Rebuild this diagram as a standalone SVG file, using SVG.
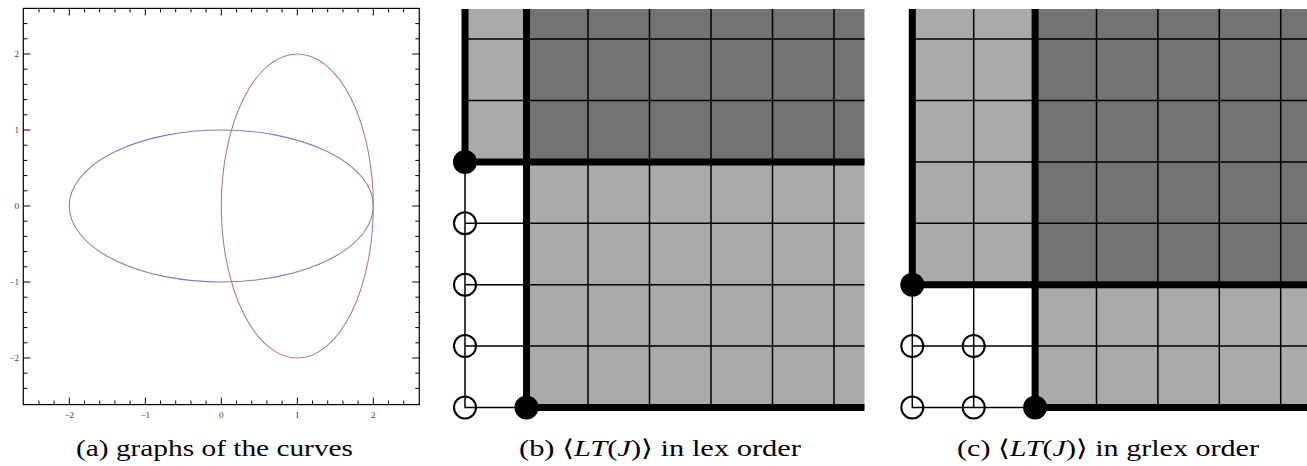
<svg xmlns="http://www.w3.org/2000/svg" xmlns:xlink="http://www.w3.org/1999/xlink" width="1307" height="466" viewBox="0 0 1307 466">
<style>
.frame{fill:none;stroke:#000;stroke-width:1.2}
.tick{fill:none;stroke:#000;stroke-width:1}
.tl{font-family:"Liberation Serif",serif;font-size:9px;fill:#3a3a4a}
.blue{fill:none;stroke:#7f7fcc;stroke-width:1.1}
.red{fill:none;stroke:#bb7791;stroke-width:1.1}
.light{fill:#aaaaaa}
.dark{fill:#737373}
.thin{fill:none;stroke:#000;stroke-width:1.5}
.thick{fill:none;stroke:#000;stroke-width:7}
.dot{fill:#000}
.open{fill:none;stroke:#000;stroke-width:2}
.cap{font-family:"Liberation Serif","DejaVu Serif",serif;font-size:23px;fill:#000}
</style>
<defs>
<path id="xt" class="tick" d="M38.9,0v-4M54.1,0v-4M69.3,0v-7M84.5,0v-4M99.7,0v-4M114.9,0v-4M130.1,0v-4M145.3,0v-7M160.5,0v-4M175.7,0v-4M190.9,0v-4M206.1,0v-4M221.3,0v-7M236.5,0v-4M251.7,0v-4M266.9,0v-4M282.1,0v-4M297.3,0v-7M312.5,0v-4M327.7,0v-4M342.9,0v-4M358.1,0v-4M373.3,0v-7M388.5,0v-4M403.7,0v-4"/>
<path id="yt" class="tick" d="M0,23.6h4M0,38.8h4M0,54h7M0,69.2h4M0,84.4h4M0,99.6h4M0,114.8h4M0,130h7M0,145.2h4M0,160.4h4M0,175.6h4M0,190.8h4M0,206h7M0,221.2h4M0,236.4h4M0,251.6h4M0,266.8h4M0,282h7M0,297.2h4M0,312.4h4M0,327.6h4M0,342.8h4M0,358h7M0,373.2h4M0,388.4h4"/>
</defs>

<g id="panel-a">
  <rect class="frame" x="23.3" y="8.4" width="396" height="396.2"/>
  <use xlink:href="#xt" transform="translate(0,404.6)"/>
  <use xlink:href="#xt" transform="translate(0,8.4) scale(1,-1)"/>
  <use xlink:href="#yt" transform="translate(23.3,0)"/>
  <use xlink:href="#yt" transform="translate(419.3,0) scale(-1,1)"/>
  <g class="tl" text-anchor="middle">
    <text x="69.3" y="418">−2</text>
    <text x="145.3" y="418">−1</text>
    <text x="221.3" y="418">0</text>
    <text x="297.3" y="418">1</text>
    <text x="373.3" y="418">2</text>
  </g>
  <g class="tl" text-anchor="end">
    <text x="19" y="57">2</text>
    <text x="19" y="133">1</text>
    <text x="19" y="209">0</text>
    <text x="19" y="285">−1</text>
    <text x="19" y="361">−2</text>
  </g>
  <ellipse id="curve-blue" class="blue" cx="221.3" cy="206" rx="152" ry="76"/>
  <ellipse id="curve-red" class="red" cx="297.3" cy="206" rx="76" ry="152"/>
  <text class="cap" x="214.5" y="456" text-anchor="middle" textLength="277" lengthAdjust="spacingAndGlyphs">(a) graphs of the curves</text>
</g>

<g id="panel-b">
  <rect class="light" x="465" y="9" width="61.5" height="152.9"/>
  <rect class="dark" x="526.5" y="9" width="338" height="152.9"/>
  <rect class="light" x="526.5" y="161.9" width="338" height="245.6"/>
  <g id="grid-b" class="thin">
    <path d="M588,9V407.5M649.5,9V407.5M711,9V407.5M772.5,9V407.5M834,9V407.5"/>
    <path d="M465,39.1H864.5M465,100.5H864.5M465,223.3H864.5M465,284.7H864.5M465,346.1H864.5"/>
    <path d="M465,161.9V407.5H526.5"/>
  </g>
  <g id="boundary-b" class="thick">
    <path d="M465,9V161.9H864.5"/>
    <path d="M526.5,9V407.5H864.5"/>
  </g>
  <g id="points-b">
    <circle class="dot" cx="465" cy="161.9" r="12"/>
    <circle class="dot" cx="526.5" cy="407.5" r="12"/>
    <circle class="open" cx="465" cy="223.3" r="11"/>
    <circle class="open" cx="465" cy="284.7" r="11"/>
    <circle class="open" cx="465" cy="346.1" r="11"/>
    <circle class="open" cx="465" cy="407.5" r="11"/>
  </g>
  <text class="cap" x="660" y="456" text-anchor="middle" textLength="282" lengthAdjust="spacingAndGlyphs">(b) ⟨<tspan font-style="italic">LT</tspan>(<tspan font-style="italic">J</tspan>)⟩ in lex order</text>
</g>

<g id="panel-c">
  <rect class="light" x="912.3" y="9" width="122.8" height="275.7"/>
  <rect class="dark" x="1035.1" y="9" width="272" height="275.7"/>
  <rect class="light" x="1035.1" y="284.7" width="272" height="122.8"/>
  <g id="grid-c" class="thin">
    <path d="M973.7,9V407.5M1096.5,9V407.5M1157.9,9V407.5M1219.3,9V407.5M1280.7,9V407.5"/>
    <path d="M912.3,39.1H1307M912.3,100.5H1307M912.3,161.9H1307M912.3,223.3H1307M912.3,346.1H1307"/>
    <path d="M912.3,284.7V407.5H1035.1"/>
  </g>
  <g id="boundary-c" class="thick">
    <path d="M912.3,9V284.7H1307"/>
    <path d="M1035.1,9V407.5H1307"/>
  </g>
  <g id="points-c">
    <circle class="dot" cx="912.3" cy="284.7" r="12"/>
    <circle class="dot" cx="1035.1" cy="407.5" r="12"/>
    <circle class="open" cx="912.3" cy="346.1" r="11"/>
    <circle class="open" cx="973.7" cy="346.1" r="11"/>
    <circle class="open" cx="912.3" cy="407.5" r="11"/>
    <circle class="open" cx="973.7" cy="407.5" r="11"/>
  </g>
  <text class="cap" x="1108" y="456" text-anchor="middle" textLength="302" lengthAdjust="spacingAndGlyphs">(c) ⟨<tspan font-style="italic">LT</tspan>(<tspan font-style="italic">J</tspan>)⟩ in grlex order</text>
</g>
</svg>
